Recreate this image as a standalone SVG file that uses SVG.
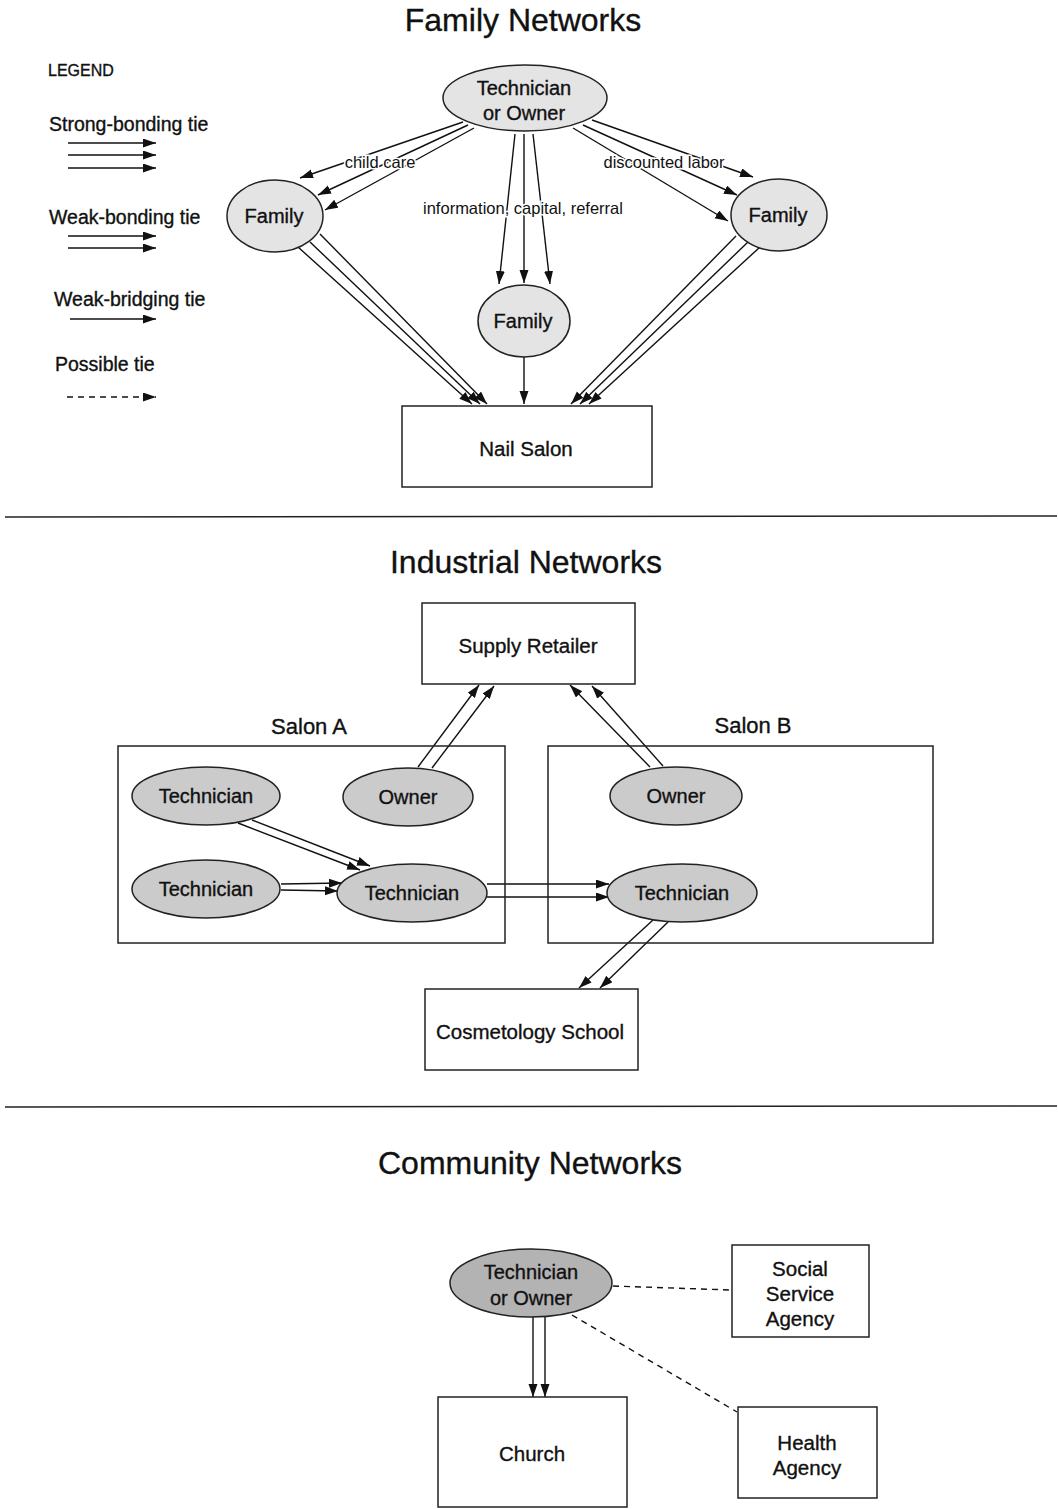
<svg xmlns="http://www.w3.org/2000/svg" width="1058" height="1509" viewBox="0 0 1058 1509">
<defs>
<marker id="ah" markerUnits="userSpaceOnUse" markerWidth="14" markerHeight="10" refX="13" refY="4.5" orient="auto">
<path d="M0,0 L13,4.5 L0,9 z" fill="#111"/>
</marker>
</defs>
<style>
text{font-family:"Liberation Sans",Arial,sans-serif;fill:#111;stroke:#111;stroke-width:0.35}
.t{font-size:32px;text-anchor:middle}
.n{font-size:20px;text-anchor:middle}
.b{font-size:20.5px;text-anchor:middle}
.lg{font-size:19.5px}
.el{font-size:16.5px;text-anchor:middle;stroke:#fff;stroke-width:3;paint-order:stroke}
.e1{fill:#e4e4e4;stroke:#222;stroke-width:1.5}
.e2{fill:#cbcbcb;stroke:#222;stroke-width:1.5}
.e3{fill:#b3b3b3;stroke:#222;stroke-width:1.5}
.box{fill:#fff;stroke:#222;stroke-width:1.5}
.frame{fill:none;stroke:#222;stroke-width:1.5}
.c line{stroke:#111;stroke-width:1.4;fill:none}
.a{marker-end:url(#ah)}
.d{stroke-dasharray:6,5}
.rule{stroke:#222;stroke-width:1.5}
</style>
<rect width="1058" height="1509" fill="#fff"/>

<!-- Titles -->
<text class="t" x="523" y="31">Family Networks</text>
<text class="t" x="526" y="573">Industrial Networks</text>
<text class="t" x="530" y="1174">Community Networks</text>

<line class="rule" x1="5" y1="517" x2="1057" y2="516"/>
<line class="rule" x1="5" y1="1107" x2="1057" y2="1106"/>

<!-- Legend -->
<g id="legend">
<text x="48" y="76" style="font-size:16px">LEGEND</text>
<text class="lg" x="49" y="131">Strong-bonding tie</text>
<text class="lg" x="49" y="224">Weak-bonding tie</text>
<text class="lg" x="54" y="306">Weak-bridging tie</text>
<text class="lg" x="55" y="371">Possible tie</text>
<g class="c">
<line class="a" x1="68" y1="143" x2="156" y2="143"/>
<line class="a" x1="68" y1="155" x2="156" y2="155"/>
<line class="a" x1="68" y1="168" x2="156" y2="168"/>
<line class="a" x1="68" y1="236" x2="156" y2="236"/>
<line class="a" x1="68" y1="248" x2="156" y2="248"/>
<line class="a" x1="70" y1="319" x2="156" y2="319"/>
<line class="a d" x1="67" y1="397" x2="156" y2="397"/>
</g>
</g>

<!-- Connectors -->
<g id="connectors" class="c">
<!-- Family section -->
<line class="a" x1="463" y1="122" x2="300" y2="178"/>
<line class="a" x1="468" y1="125" x2="318" y2="195"/>
<line class="a" x1="474" y1="128" x2="325" y2="210"/>
<line class="a" x1="592" y1="120" x2="753" y2="177"/>
<line class="a" x1="583" y1="125" x2="737" y2="195"/>
<line class="a" x1="573" y1="128" x2="728" y2="221"/>
<line class="a" x1="515" y1="134" x2="499" y2="284"/>
<line class="a" x1="524" y1="134" x2="524" y2="283"/>
<line class="a" x1="533" y1="134" x2="550" y2="284"/>
<line class="a" x1="298" y1="247" x2="472" y2="404"/>
<line class="a" x1="310" y1="242" x2="480" y2="404"/>
<line class="a" x1="320" y1="234" x2="487" y2="404"/>
<line class="a" x1="736" y1="236" x2="571" y2="404"/>
<line class="a" x1="748" y1="242" x2="580" y2="404"/>
<line class="a" x1="760" y1="247" x2="589" y2="404"/>
<line class="a" x1="524" y1="357" x2="524" y2="404"/>
<!-- Industrial section -->
<line class="a" x1="418" y1="767" x2="479" y2="685"/>
<line class="a" x1="432" y1="768" x2="494" y2="686"/>
<line class="a" x1="650" y1="767" x2="570" y2="685"/>
<line class="a" x1="663" y1="766" x2="592" y2="686"/>
<line class="a" x1="238" y1="823" x2="360" y2="870"/>
<line class="a" x1="252" y1="820" x2="370" y2="866"/>
<line class="a" x1="281" y1="884" x2="342" y2="883"/>
<line class="a" x1="281" y1="890" x2="338" y2="891"/>
<line class="a" x1="487" y1="884" x2="609" y2="884"/>
<line class="a" x1="487" y1="897" x2="609" y2="897"/>
<line class="a" x1="653" y1="920" x2="579" y2="988"/>
<line class="a" x1="668" y1="922" x2="600" y2="988"/>
<!-- Community section -->
<line class="a" x1="533" y1="1317" x2="533" y2="1397"/>
<line class="a" x1="545" y1="1317" x2="545" y2="1397"/>
<line class="d" x1="613" y1="1286" x2="731" y2="1290"/>
<line class="d" x1="572" y1="1315" x2="737" y2="1412"/>
</g>

<!-- Edge labels -->
<text class="el" x="380" y="168">child care</text>
<text class="el" x="664" y="168">discounted labor</text>
<text class="el" x="523" y="214">information, capital, referral</text>

<!-- Family network nodes -->
<g id="tech-owner-top"><ellipse class="e1" cx="525" cy="98" rx="82" ry="33"/><text class="n" x="524" y="95">Technician</text><text class="n" x="524" y="120">or Owner</text></g>
<g id="family-left"><ellipse class="e1" cx="275" cy="216" rx="48" ry="36"/><text class="n" x="274" y="223">Family</text></g>
<g id="family-right"><ellipse class="e1" cx="779" cy="215" rx="48" ry="36"/><text class="n" x="778" y="222">Family</text></g>
<g id="family-mid"><ellipse class="e1" cx="524" cy="321" rx="46" ry="36"/><text class="n" x="523" y="328">Family</text></g>
<g id="nail-salon"><rect class="box" x="402" y="406" width="250" height="81"/><text class="b" x="526" y="456">Nail Salon</text></g>

<!-- Industrial network nodes -->
<g id="supply-retailer"><rect class="box" x="422" y="603" width="213" height="81"/><text class="b" x="528" y="653">Supply Retailer</text></g>
<g id="salon-a"><rect class="frame" x="118" y="746" width="387" height="197"/><text x="309" y="734" style="font-size:22px;text-anchor:middle">Salon A</text></g>
<g id="salon-b"><rect class="frame" x="548" y="746" width="385" height="197"/><text x="753" y="733" style="font-size:22px;text-anchor:middle">Salon B</text></g>
<g id="tech-a1"><ellipse class="e2" cx="206" cy="796" rx="74" ry="29"/><text class="n" x="206" y="803">Technician</text></g>
<g id="owner-a"><ellipse class="e2" cx="408" cy="797" rx="65" ry="29"/><text class="n" x="408" y="804">Owner</text></g>
<g id="tech-a2"><ellipse class="e2" cx="206" cy="889" rx="74" ry="29"/><text class="n" x="206" y="896">Technician</text></g>
<g id="tech-a3"><ellipse class="e2" cx="412" cy="893" rx="75" ry="29"/><text class="n" x="412" y="900">Technician</text></g>
<g id="owner-b"><ellipse class="e2" cx="676" cy="796" rx="66" ry="29"/><text class="n" x="676" y="803">Owner</text></g>
<g id="tech-b"><ellipse class="e2" cx="682" cy="893" rx="75" ry="29"/><text class="n" x="682" y="900">Technician</text></g>
<g id="cosmetology-school"><rect class="box" x="425" y="989" width="213" height="81"/><text class="b" x="530" y="1039">Cosmetology School</text></g>

<!-- Community network nodes -->
<g id="tech-owner-comm"><ellipse class="e3" cx="531" cy="1283" rx="81" ry="34"/><text class="n" x="531" y="1279">Technician</text><text class="n" x="531" y="1305">or Owner</text></g>
<g id="social-service"><rect class="box" x="732" y="1245" width="137" height="92"/><text class="b" x="800" y="1276">Social</text><text class="b" x="800" y="1301">Service</text><text class="b" x="800" y="1326">Agency</text></g>
<g id="church"><rect class="box" x="438" y="1397" width="189" height="110"/><text class="b" x="532" y="1461">Church</text></g>
<g id="health-agency"><rect class="box" x="738" y="1407" width="139" height="91"/><text class="b" x="807" y="1450">Health</text><text class="b" x="807" y="1475">Agency</text></g>
</svg>
